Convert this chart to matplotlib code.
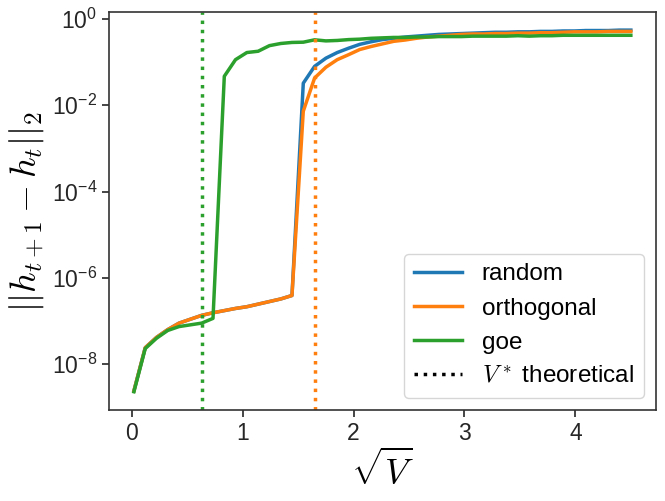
import numpy as np
import matplotlib
matplotlib.use("Agg")
import matplotlib.pyplot as plt
from matplotlib.lines import Line2D

plt.rcParams['font.family'] = ['Liberation Sans', 'DejaVu Sans']
plt.rcParams['mathtext.fontset'] = 'cm'
plt.rcParams['axes.unicode_minus'] = False

# sqrt(V) grid
sqrt_v = [0.02, 0.122, 0.224, 0.325, 0.427, 0.529, 0.631, 0.733, 0.835, 0.936,
          1.038, 1.14, 1.242, 1.344, 1.445, 1.547, 1.649, 1.751, 1.853, 1.955,
          2.056, 2.158, 2.26, 2.362, 2.464, 2.565, 2.667, 2.769, 2.871, 2.973,
          3.075, 3.176, 3.278, 3.38, 3.482, 3.584, 3.685, 3.787, 3.889, 3.991,
          4.093, 4.195, 4.296, 4.398, 4.5]

# log10 of ||h_{t+1} - h_t||_2
log_random = [-8.62, -7.62, -7.38, -7.20, -7.05, -6.96, -6.87, -6.81, -6.76, -6.71,
              -6.67, -6.61, -6.55, -6.49, -6.41, -1.49, -1.10, -0.91, -0.78, -0.68,
              -0.59, -0.53, -0.48, -0.45, -0.42, -0.40, -0.38, -0.36, -0.35, -0.34,
              -0.33, -0.32, -0.31, -0.31, -0.30, -0.30, -0.29, -0.29, -0.28, -0.28,
              -0.27, -0.27, -0.27, -0.26, -0.26]
log_orthogonal = [-8.62, -7.62, -7.38, -7.20, -7.05, -6.96, -6.87, -6.81, -6.76, -6.71,
                  -6.67, -6.61, -6.55, -6.49, -6.41, -2.14, -1.37, -1.12, -0.945, -0.83,
                  -0.71, -0.64, -0.58, -0.52, -0.49, -0.45, -0.42, -0.40, -0.38, -0.36,
                  -0.35, -0.35, -0.34, -0.34, -0.33, -0.33, -0.32, -0.32, -0.31, -0.30,
                  -0.30, -0.30, -0.29, -0.29, -0.29]
log_goe = [-8.64, -7.64, -7.40, -7.22, -7.13, -7.09, -7.05, -6.94, -1.33, -0.945,
           -0.78, -0.75, -0.62, -0.57, -0.546, -0.54, -0.485, -0.51, -0.50, -0.48,
           -0.47, -0.45, -0.44, -0.43, -0.43, -0.42, -0.42, -0.41, -0.41, -0.41,
           -0.40, -0.40, -0.40, -0.40, -0.39, -0.40, -0.39, -0.39, -0.38, -0.38,
           -0.38, -0.38, -0.38, -0.38, -0.38]

# theoretical V* (sqrt)
vstar_orthogonal = 1.652
vstar_goe = 0.634

x = np.array(sqrt_v)
fig = plt.figure(figsize=(6.65, 5.01), dpi=100)
ax = fig.add_axes([0.164, 0.182, 0.822, 0.794])

ax.plot(x, 10 ** np.array(log_random), color='tab:blue', lw=2.5, label='random')
ax.plot(x, 10 ** np.array(log_orthogonal), color='tab:orange', lw=2.5, label='orthogonal')
ax.plot(x, 10 ** np.array(log_goe), color='tab:green', lw=2.5, label='goe')
ax.axvline(vstar_orthogonal, color='tab:orange', ls=':', lw=2.5)
ax.axvline(vstar_goe, color='tab:green', ls=':', lw=2.5)
ax.set_yscale('log')

ax.set_yticks([1e0, 1e-2, 1e-4, 1e-6, 1e-8])
ax.set_yticklabels([r'$\mathdefault{10^{0}}$', r'$\mathdefault{10^{-2}}$',
                    r'$\mathdefault{10^{-4}}$', r'$\mathdefault{10^{-6}}$',
                    r'$\mathdefault{10^{-8}}$'])
ax.minorticks_off()
ax.tick_params(labelsize=16.5, colors='#262626', length=5, width=1.2)
for s in ax.spines.values():
    s.set_color('#333333')
    s.set_linewidth(1.2)

ax.set_xlabel(r'$\sqrt{V}$', fontsize=26)
ax.set_ylabel(r'$||h_{t+1} - h_t||_2$', fontsize=26)

handles, labels = ax.get_legend_handles_labels()
handles.append(Line2D([], [], color='black', ls=':', lw=2.5))
labels.append(r'$V^*$ theoretical')
ax.legend(handles, labels, loc='lower right', fontsize=17.5)

fig.savefig('out.png', dpi=100)
